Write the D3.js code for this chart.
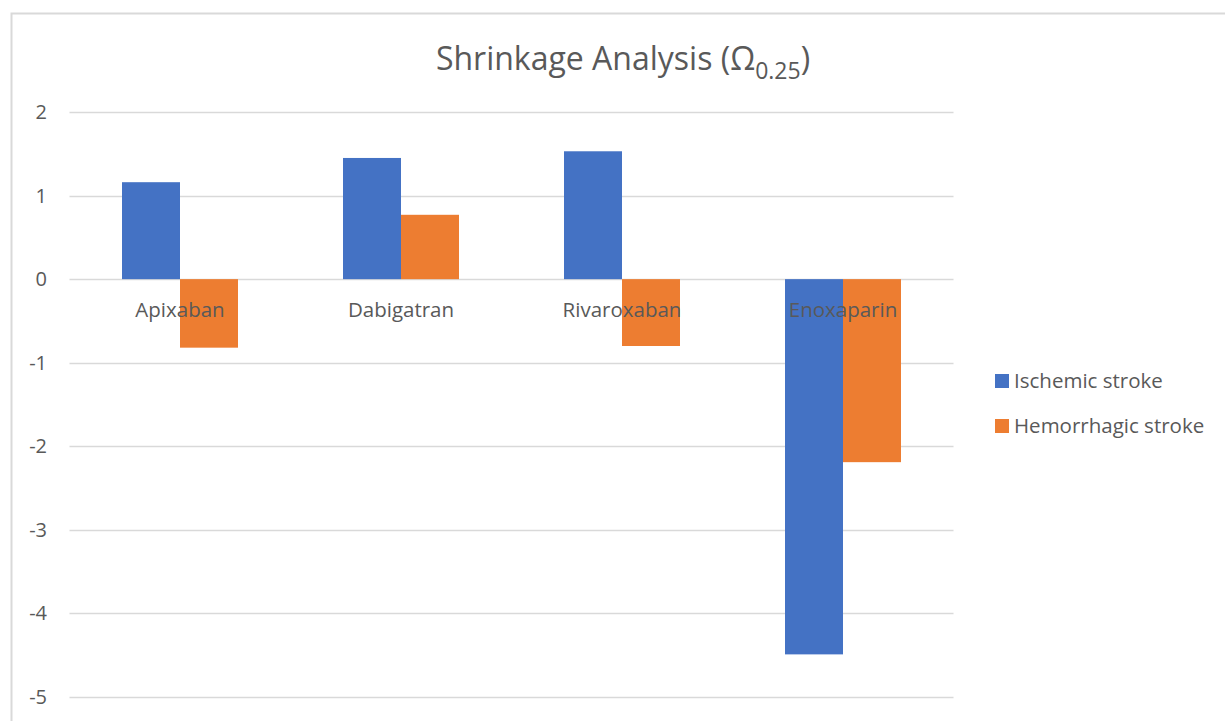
<!DOCTYPE html>
<html>
<head>
<meta charset="utf-8">
<script src="https://cdn.jsdelivr.net/npm/d3@7"></script>
<style>
  body { margin: 0; background: #fff; }
  text { font-family: "Open Sans", "Liberation Sans", sans-serif; fill: #595959; }
</style>
</head>
<body>
<svg id="chart" width="1225" height="721"></svg>
<script>
// data
var categories = ["Apixaban", "Dabigatran", "Rivaroxaban", "Enoxaparin"];
var seriesNames = ["Ischemic stroke", "Hemorrhagic stroke"];
var ischemic = [1.16, 1.45, 1.53, -4.49];
var hemorrhagic = [-0.82, 0.77, -0.80, -2.19];
var yTicks = [2, 1, 0, -1, -2, -3, -4, -5];
var colors = ["#4472C4", "#ED7D31"];

var svg = d3.select("#chart");

// outer chart border
svg.append("rect")
    .attr("x", 11.5).attr("y", 13.5)
    .attr("width", 1300).attr("height", 800)
    .attr("fill", "none").attr("stroke", "#d9d9d9").attr("stroke-width", 2);

var plotLeft = 69.5, plotRight = 953.5, plotTop = 112, plotBottom = 697;

var x = d3.scaleBand().domain(categories).range([plotLeft, plotRight]).paddingInner(0).paddingOuter(0);
var y = d3.scaleLinear().domain([-5, 2]).range([plotBottom, plotTop]);

// gridlines
svg.append("g").selectAll("line").data(yTicks).join("line")
    .attr("x1", plotLeft).attr("x2", plotRight)
    .attr("y1", function(d) { return Math.round(y(d)) + 0.5; })
    .attr("y2", function(d) { return Math.round(y(d)) + 0.5; })
    .attr("stroke", "#d9d9d9").attr("stroke-width", 1.5);

// y tick labels
svg.append("g").selectAll("text").data(yTicks).join("text")
    .attr("x", 47).attr("y", function(d) { return y(d); })
    .attr("dy", "0.35em")
    .attr("text-anchor", "end")
    .style("font-size", "20px")
    .text(function(d) { return d; });

// bars
var barW = 58;
var series = [ischemic, hemorrhagic];
series.forEach(function(vals, s) {
    svg.append("g").selectAll("rect").data(vals).join("rect")
        .attr("x", function(d, i) { return x(categories[i]) + x.bandwidth() / 2 - barW + s * barW; })
        .attr("width", barW)
        .attr("y", function(d) { return y(Math.max(0, d)); })
        .attr("height", function(d) { return Math.abs(y(d) - y(0)); })
        .attr("fill", colors[s]);
});

// category labels, just under the zero line
svg.append("g").selectAll("text").data(categories).join("text")
    .attr("x", function(d) { return x(d) + x.bandwidth() / 2; })
    .attr("y", y(0) + 38)
    .attr("text-anchor", "middle")
    .style("font-size", "20.5px")
    .text(function(d) { return d; });

// title
var title = svg.append("text")
    .attr("x", 623).attr("y", 70)
    .attr("text-anchor", "middle")
    .style("font-size", "32px");
title.append("tspan").text("Shrinkage Analysis (Ω");
title.append("tspan").attr("dy", 9).style("font-size", "23px").text("0.25");
title.append("tspan").attr("dy", -9).text(")");

// legend
var legend = svg.append("g").selectAll("g").data(seriesNames).join("g")
    .attr("transform", function(d, i) { return "translate(995," + (381 + i * 45) + ")"; });
legend.append("rect")
    .attr("x", 0).attr("y", -7).attr("width", 14).attr("height", 14)
    .attr("fill", function(d, i) { return colors[i]; });
legend.append("text")
    .attr("x", 19).attr("dy", "0.35em")
    .style("font-size", "20.5px")
    .text(function(d) { return d; });
</script>
</body>
</html>
